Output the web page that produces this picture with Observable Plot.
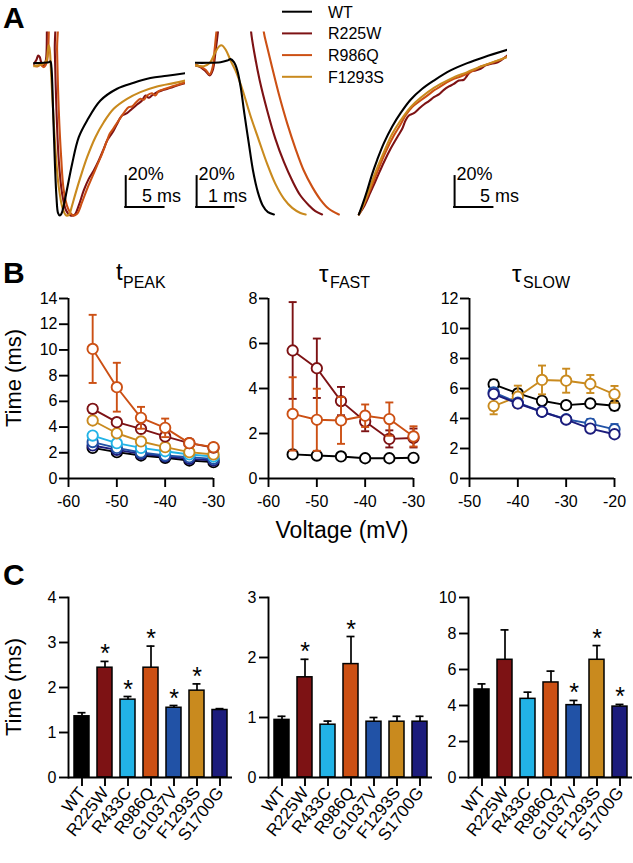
<!DOCTYPE html>
<html><head><meta charset="utf-8">
<script src="https://cdn.jsdelivr.net/npm/d3@7"></script>
<script src="https://cdn.jsdelivr.net/npm/@observablehq/plot@0.6"></script>
<style>
body{margin:0;background:#fff;}
#fig{position:relative;width:633px;height:863px;overflow:hidden;background:#fff;font-family:"Liberation Sans",Arial,Helvetica,sans-serif;color:#000;}
</style></head><body><div id="fig"></div>
<script>
// ---------- shared categories & colours ----------
const mutants = ["WT","R225W","R433C","R986Q","G1037V","F1293S","S1700G"];
const mutantColors = ["#000000","#7d1214","#22b3e6","#cc5014","#2152a6","#c98a1e","#1c1c7c"];
const colorOf = n => mutantColors[mutants.indexOf(n)];

// ---------- Panel A: normalised current traces [time ms, current %] ----------
const legendNames = ["WT","R225W","R986Q","F1293S"];
const aLeftWT = [[0,-0.2],[1.30,0],[1.96,0.4],[2.17,0.9],[2.30,-2.8],[2.52,-31.2],[2.74,-64.0],[2.96,-88.0],[3.17,-98.5],[3.39,-100],[3.61,-98.9],[3.91,-93.4],[4.35,-82.5],[5.0,-66.2],[5.87,-48.7],[6.96,-37.8],[8.70,-24.7],[10.87,-17.0],[13.04,-13.1],[15.22,-10.0],[17.39,-8.5],[19.78,-6.8]];
const aLeftR225W = [[0,-0.7],[0.35,2.0],[0.57,4.8],[0.78,3.7],[1.0,-0.2],[1.30,-1.7],[1.57,1.5],[1.74,27.7],[1.87,34.3],[2.61,34.3],[2.74,8.1],[2.96,-31.2],[3.26,-64.0],[3.70,-85.8],[4.22,-96.7],[4.78,-100],[5.30,-99.6],[5.87,-93.4],[6.52,-83.6],[7.17,-76.0],[7.83,-70.5],[8.48,-64.0],[9.13,-56.3],[9.57,-50.9],[10.0,-47.6],[10.43,-44.3],[10.87,-40.0],[11.52,-34.5],[12.17,-33.0],[12.83,-30.1],[13.48,-27.3],[14.13,-24.7],[14.57,-21.4],[15.0,-22.9],[15.43,-21.4],[16.09,-19.2],[16.96,-17.7],[17.83,-16.4],[18.70,-14.8],[19.78,-13.3]];
const aLeftR986Q = [[0,-1.7],[0.43,-2.4],[0.87,-1.3],[1.30,-2.8],[1.65,-0.2],[1.87,8.1],[2.0,27.7],[2.09,34.3],[2.96,34.3],[3.04,8.1],[3.26,-31.2],[3.57,-61.8],[3.91,-83.6],[4.48,-95.6],[5.13,-100],[5.65,-98.9],[6.30,-91.3],[6.96,-82.5],[7.61,-74.9],[8.26,-67.2],[8.91,-59.6],[9.48,-52.0],[9.91,-46.5],[10.22,-44.3],[10.65,-41.0],[11.22,-36.7],[11.83,-32.3],[12.39,-29.0],[12.83,-28.6],[13.26,-26.4],[13.91,-23.6],[14.35,-24.2],[14.78,-21.4],[15.43,-19.9],[15.87,-21.4],[16.30,-18.6],[17.17,-17.0],[18.04,-15.5],[18.91,-14.2],[19.78,-12.7]];
const aLeftF1293S = [[0,-2.2],[0.65,-1.7],[1.22,-0.7],[1.65,1.5],[1.83,8.1],[1.96,11.4],[2.09,8.1],[2.26,-7.2],[2.52,-31.2],[2.83,-57.4],[3.26,-81.4],[3.78,-95.6],[4.26,-100],[4.61,-99.3],[5.0,-93.4],[5.43,-85.8],[6.09,-74.9],[6.96,-61.8],[8.04,-48.7],[9.13,-38.9],[10.43,-30.1],[12.17,-23.6],[13.91,-19.2],[16.09,-15.5],[18.26,-13.3],[19.78,-11.6]];

const aMidWT = [[0,0],[0.31,0],[0.67,0.4],[0.85,1.5],[0.94,2.4],[1.03,0.4],[1.12,-5.0],[1.21,-15.9],[1.31,-33.4],[1.43,-53.1],[1.54,-70.5],[1.67,-84.7],[1.80,-93.4],[1.94,-97.8],[2.10,-99.3]];
const aMidR225W = [[0,-1.7],[0.13,-2.8],[0.27,-5.5],[0.38,-8.3],[0.46,-5.0],[0.54,8.1],[0.60,20.1],[0.65,32.1],[1.46,32.1],[1.49,20.1],[1.58,5.9],[1.72,-11.6],[1.92,-31.2],[2.14,-49.8],[2.37,-65.1],[2.59,-77.1],[2.81,-86.9],[3.04,-93.4],[3.21,-97.2],[3.39,-99.3]];
const aMidR986Q = [[0,-1.3],[0.13,-2.4],[0.27,-4.6],[0.38,-7.6],[0.46,-2.8],[0.51,8.1],[0.56,20.1],[0.62,32.1],[1.79,32.1],[1.83,20.1],[1.92,10.3],[2.05,-2.8],[2.23,-20.3],[2.46,-40.0],[2.68,-56.3],[2.90,-70.5],[3.13,-81.4],[3.35,-89.7],[3.57,-95.6],[3.84,-99.3]];
const aMidF1293S = [[0,-1.7],[0.22,-2.2],[0.38,-0.2],[0.51,5.9],[0.63,10.7],[0.71,11.4],[0.82,8.1],[0.94,1.5],[1.07,-5.0],[1.25,-17.0],[1.47,-34.5],[1.70,-50.9],[1.92,-66.2],[2.14,-79.3],[2.37,-89.1],[2.59,-95.0],[2.81,-98.3],[2.95,-99.3]];

const aRightWT = [[0.22,-99.3],[0.65,-93.4],[1.30,-83.6],[1.96,-72.7],[2.61,-63.5],[3.48,-52.6],[4.57,-41.7],[5.65,-33.0],[6.96,-24.2],[8.48,-17.0],[10.0,-11.6],[12.17,-5.0],[14.35,-0.2],[16.52,3.7],[19.57,8.5]];
const aRightR225W = [[0.22,-99.3],[0.96,-93.4],[1.74,-84.7],[2.61,-74.9],[3.48,-65.1],[4.35,-56.3],[5.22,-48.7],[5.87,-43.2],[6.30,-37.8],[6.74,-34.5],[7.39,-33.0],[8.04,-30.1],[8.70,-27.3],[9.35,-25.1],[10.0,-22.5],[10.65,-20.7],[11.30,-17.7],[11.96,-15.5],[12.61,-13.8],[13.26,-11.6],[13.91,-11.1],[14.35,-8.3],[14.87,-5.5],[15.43,-5.0],[16.09,-3.9],[16.74,-1.7],[17.39,-0.7],[18.04,-0.2],[18.70,1.5],[19.57,4.8]];
const aRightR986Q = [[0.22,-99.3],[0.87,-92.8],[1.74,-82.5],[2.61,-71.6],[3.70,-58.5],[4.78,-47.6],[5.65,-40.4],[6.30,-34.5],[7.17,-29.0],[8.26,-24.7],[9.35,-20.7],[10.0,-18.1],[10.87,-15.5],[11.74,-12.7],[12.61,-10.5],[13.48,-9.0],[14.35,-7.2],[15.22,-5.0],[16.09,-2.4],[16.96,-1.1],[17.83,0.4],[18.70,2.0],[19.57,4.1]];
const aRightF1293S = [[0.22,-99.3],[0.78,-93.4],[1.52,-83.6],[2.39,-71.6],[3.48,-58.5],[4.57,-46.5],[5.65,-37.8],[6.96,-29.0],[8.26,-22.9],[10.0,-16.4],[12.17,-10.5],[14.35,-6.1],[16.52,-1.7],[19.57,3.7]];

// scale bars: position (ms, %), length (ms, %)
const barLeft  = {x:12.0, y:-94.5, w:5, h:20, xLabel:"5 ms", yLabel:"20%"};
const barMid   = {x:0.03, y:-94.5, w:1, h:20, xLabel:"1 ms", yLabel:"20%"};
const barRight = {x:12.7, y:-94.5, w:5, h:20, xLabel:"5 ms", yLabel:"20%"};

// ---------- Panel B: kinetics vs voltage ----------
const voltsB = [-55,-50,-45,-40,-35,-30];
const voltsSlow = [-45,-40,-35,-30,-25,-20];
const tPeakGroups = ["WT","S1700G","G1037V","R433C","F1293S","R225W","R986Q"];
const tPeakMeans = [
  [2.38,2.05,1.79,1.61,1.40,1.27],
  [2.57,2.23,1.92,1.71,1.53,1.40],
  [2.83,2.38,2.02,1.79,1.66,1.53],
  [3.34,2.75,2.38,2.12,1.87,1.71],
  [4.51,3.52,2.88,2.44,2.05,1.87],
  [5.42,4.38,3.86,3.27,2.75,2.40],
  [10.08,7.10,4.72,3.94,2.75,2.44]];
const tPeakErrs = [
  [0.10,0.08,0.07,0.06,0.05,0.05],
  [0.12,0.10,0.08,0.07,0.06,0.05],
  [0.15,0.12,0.10,0.08,0.07,0.06],
  [0.18,0.14,0.12,0.10,0.08,0.07],
  [0.25,0.20,0.15,0.12,0.10,0.08],
  [0.30,0.20,0.25,0.30,0.20,0.15],
  [2.65,1.90,0.85,0.72,0.30,0.25]];
const tFastGroups = ["WT","R225W","R986Q"];
const tFastMeans = [
  [1.07,1.02,0.98,0.90,0.90,0.92],
  [5.69,4.90,3.44,2.53,1.76,1.80],
  [2.87,2.61,2.58,2.79,2.64,1.87]];
const tFastErrs = [
  [0.05,0.05,0.05,0.04,0.04,0.04],
  [2.15,1.32,0.63,0.43,0.38,0.42],
  [1.63,1.38,1.04,0.50,0.74,0.45]];
const tSlowGroups = ["WT","F1293S","G1037V","S1700G"];
const tSlowMeans = [
  [6.28,5.67,5.18,4.89,5.00,4.85],
  [4.83,5.45,6.57,6.52,6.30,5.61],
  [5.74,5.05,4.45,3.95,3.66,3.28],
  [5.63,5.00,4.45,3.93,3.33,2.95]];
const tSlowErrs = [
  [0.30,0.25,0.25,0.20,0.25,0.30],
  [0.55,0.74,0.96,0.80,0.60,0.56],
  [0.30,0.25,0.20,0.20,0.30,0.35],
  [0.20,0.20,0.15,0.15,0.20,0.20]];
const ticksPeak = [0,2,4,6,8,10,12,14];
const ticksFast = [0,2,4,6,8];
const ticksSlow = [0,2,4,6,8,10,12];
const voltTicksA = [-60,-50,-40,-30];
const voltTicksB = [-50,-40,-30,-20];

// ---------- Panel C: bar summaries ----------
const cPeakMean = [1.36,2.44,1.73,2.44,1.55,1.93,1.50];
const cPeakErr  = [0.08,0.14,0.07,0.48,0.05,0.15,0.03];
const cPeakSig  = [0,1,1,1,1,1,0];
const cFastMean = [0.96,1.67,0.88,1.89,0.93,0.93,0.93];
const cFastErr  = [0.06,0.30,0.06,0.46,0.07,0.09,0.09];
const cFastSig  = [0,1,0,1,0,0,0];
const cSlowMean = [4.89,6.54,4.37,5.28,4.02,6.54,3.94];
const cSlowErr  = [0.31,1.66,0.37,0.63,0.26,0.79,0.12];
const cSlowSig  = [0,0,0,0,1,1,1];
const cTicksPeak = [0,1,2,3,4];
const cTicksFast = [0,1,2,3];
const cTicksSlow = [0,2,4,6,8,10];

// ================= drawing =================
const FONT = "'Liberation Sans', Arial, Helvetica, sans-serif";
const fig = document.getElementById("fig");
const SVGSTYLE = `background:none;overflow:visible;font-family:${FONT};font-size:16px;color:#000;`;
function place(node, left, top) {
  node.style.position = "absolute";
  node.style.left = left + "px";
  node.style.top = top + "px";
  fig.appendChild(node);
}

// Panel A
function tracePanel(traces, xMax, width, mL, mR, bar, xLabelDx) {
  const marks = traces.map(([name, pts]) =>
    Plot.line(pts, {x: d => d[0], y: d => d[1], stroke: colorOf(name), strokeWidth: 2.1, curve: "catmull-rom", clip: true}));
  marks.push(
    Plot.ruleX([bar], {x: "x", y1: "y", y2: d => d.y + d.h, strokeWidth: 2, strokeLinecap: "square"}),
    Plot.ruleY([bar], {y: "y", x1: "x", x2: d => d.x + d.w, strokeWidth: 2, strokeLinecap: "square"}),
    Plot.text([bar], {x: "x", y: d => d.y + d.h, text: "yLabel", textAnchor: "start", lineAnchor: "top", dx: 2, dy: -9, fontSize: 18}),
    Plot.text([bar], {x: d => d.x + d.w, y: "y", text: "xLabel", textAnchor: "end", lineAnchor: "bottom", dx: xLabelDx, dy: -5, fontSize: 18})
  );
  return Plot.plot({
    width, height: 240, marginLeft: mL, marginRight: mR, marginTop: 31.6, marginBottom: 20.4,
    style: SVGSTYLE,
    x: {domain: [0, xMax], axis: null},
    y: {domain: [-103, 20.1], axis: null},
    marks
  });
}
place(tracePanel([["R225W", aLeftR225W], ["R986Q", aLeftR986Q], ["F1293S", aLeftF1293S], ["WT", aLeftWT]], 19.8, 200, 33.3, 15, barLeft, 17), 0, 0);
place(tracePanel([["R225W", aMidR225W], ["R986Q", aMidR986Q], ["F1293S", aMidF1293S], ["WT", aMidWT]], 3.9, 180, 15, 19.4, barMid, 13), 180, 0);
place(tracePanel([["R225W", aRightR225W], ["R986Q", aRightR986Q], ["F1293S", aRightF1293S], ["WT", aRightWT]], 19.6, 200, 16.7, 33, barRight, 26), 340, 0);

// Panel B
const capSymbol = {draw(ctx) { ctx.moveTo(-4, 0); ctx.lineTo(4, 0); }};
function linePanel(groups, means, errs, volts, xDomain, xTicks, yDomain, yTicks) {
  const marks = [];
  groups.forEach((g, i) => {
    const rows = volts.map((v, j) => ({v, m: means[i][j], e: errs[i][j]}));
    const c = colorOf(g);
    marks.push(
      Plot.ruleX(rows, {x: "v", y1: d => d.m - d.e, y2: d => d.m + d.e, stroke: c, strokeWidth: 1.9}),
      Plot.dot(rows, {x: "v", y: d => d.m + d.e, symbol: capSymbol, stroke: c, fill: "none", strokeWidth: 1.9}),
      Plot.dot(rows, {x: "v", y: d => d.m - d.e, symbol: capSymbol, stroke: c, fill: "none", strokeWidth: 1.9}),
      Plot.line(rows, {x: "v", y: "m", stroke: c, strokeWidth: 1.9}),
      Plot.dot(rows, {x: "v", y: "m", r: 5.2, stroke: c, fill: "white", strokeWidth: 1.9})
    );
  });
  marks.push(
    Plot.ruleY([yDomain[0]], {strokeWidth: 1.9}),
    Plot.ruleX([xDomain[0]], {strokeWidth: 1.9}),
    Plot.axisX({ticks: xTicks, tickSize: 9, tickPadding: 8, fontSize: 16, strokeWidth: 1.9, tickFormat: d => String(d), label: null}),
    Plot.axisY({ticks: yTicks, tickSize: 9, tickPadding: 2, fontSize: 16, strokeWidth: 1.9, tickFormat: d => String(d), label: null})
  );
  return Plot.plot({
    width: 223, height: 250, marginLeft: 68, marginRight: 10, marginTop: 28, marginBottom: 42,
    style: SVGSTYLE,
    x: {domain: xDomain}, y: {domain: yDomain},
    marks
  });
}
place(linePanel(tPeakGroups, tPeakMeans, tPeakErrs, voltsB, [-60, -30], voltTicksA, [0, 14], ticksPeak), 0, 270);
place(linePanel(tFastGroups, tFastMeans, tFastErrs, voltsB, [-60, -30], voltTicksA, [0, 8], ticksFast), 200, 270);
place(linePanel(tSlowGroups, tSlowMeans, tSlowErrs, voltsSlow, [-50, -20], voltTicksB, [0, 12], ticksSlow), 401, 270);

// Panel C
function barPanel(means, errs, sig, yDomain, yTicks) {
  const rows = mutants.map((n, i) => ({name: n, m: means[i], e: errs[i], s: sig[i]}));
  return Plot.plot({
    width: 237, height: 283, marginLeft: 68, marginRight: 5, marginTop: 17, marginBottom: 86,
    style: SVGSTYLE,
    x: {domain: mutants, paddingInner: 0.356, paddingOuter: 0.19},
    y: {domain: yDomain},
    color: {domain: mutants, range: mutantColors},
    marks: [
      Plot.ruleX(rows, {x: "name", y1: "m", y2: d => d.m + d.e, strokeWidth: 1.7}),
      Plot.tickY(rows, {x: "name", y: d => d.m + d.e, strokeWidth: 1.7, insetLeft: 3.5, insetRight: 3.5}),
      Plot.barY(rows, {x: "name", y: "m", fill: "name", stroke: "black", strokeWidth: 1.5}),
      Plot.text(rows.filter(d => d.s), {x: "name", y: d => d.m + d.e, text: () => "*", fontSize: 25, lineAnchor: "bottom", dy: 1}),
      Plot.ruleY([yDomain[0]], {strokeWidth: 1.9}),
      Plot.frame({anchor: "left", strokeWidth: 1.9}),
      Plot.axisX({tickSize: 9, tickPadding: 3, tickRotate: -52, fontSize: 17, strokeWidth: 1.9, label: null}),
      Plot.axisY({ticks: yTicks, tickSize: 9, tickPadding: 3, fontSize: 16, strokeWidth: 1.9, tickFormat: d => String(d), label: null})
    ]
  });
}
place(barPanel(cPeakMean, cPeakErr, cPeakSig, [0, 4], cTicksPeak), 0, 580);
place(barPanel(cFastMean, cFastErr, cFastSig, [0, 3], cTicksFast), 200, 580);
place(barPanel(cSlowMean, cSlowErr, cSlowSig, [0, 10], cTicksSlow), 400, 580);

// annotations overlay (panel letters, titles, axis titles, legend)
const ov = d3.create("svg").attr("width", 633).attr("height", 863)
  .style("position", "absolute").style("left", "0px").style("top", "0px")
  .style("pointer-events", "none").style("overflow", "visible")
  .attr("font-family", FONT).attr("fill", "#000");
function txt(x, y, s, size, extra = {}) {
  const t = ov.append("text").attr("x", x).attr("y", y).attr("font-size", size).text(s);
  for (const k in extra) t.attr(k, extra[k]);
  return t;
}
txt(3, 28, "A", 30, {"font-weight": "bold"});
txt(3, 283, "B", 30, {"font-weight": "bold"});
txt(3, 585, "C", 30, {"font-weight": "bold"});
txt(116, 280, "t", 24); txt(123, 287.5, "PEAK", 16);
txt(319, 282, "τ", 24); txt(330, 287.5, "FAST", 16);
txt(512, 282, "τ", 24); txt(523, 287.5, "SLOW", 16);
txt(0, 0, "Time (ms)", 22, {"text-anchor": "middle", transform: "translate(21,378) rotate(-90)", x: null, y: null});
txt(0, 0, "Time (ms)", 22, {"text-anchor": "middle", transform: "translate(21,687) rotate(-90)", x: null, y: null});
txt(342, 538, "Voltage (mV)", 23, {"text-anchor": "middle"});
legendNames.forEach((n, i) => {
  const y = 11.7 + i * 21.7;
  ov.append("line").attr("x1", 282).attr("x2", 312).attr("y1", y).attr("y2", y)
    .attr("stroke", colorOf(n)).attr("stroke-width", 2);
  txt(328, y + 5.8, n, 16);
});
fig.appendChild(ov.node());
</script></body></html>
